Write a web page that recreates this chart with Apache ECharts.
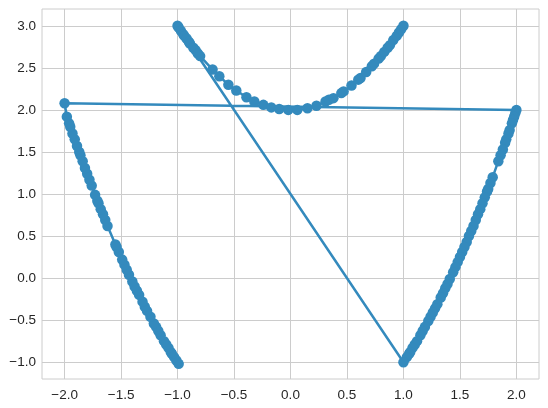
<!DOCTYPE html>
<html>
<head>
<meta charset="utf-8">
<script src="https://cdn.jsdelivr.net/npm/echarts@6/dist/echarts.min.js"></script>
<style>
  html, body { margin: 0; padding: 0; background: #fff; }
  #chart { width: 548px; height: 408px; }
</style>
</head>
<body>
<div id="chart"></div>
<script>
// left branch, going from (-1,-1) up to (-2,2.08)
var leftX = [-0.99, -1.01, -1.03, -1.05, -1.06, -1.08, -1.10, -1.12, -1.15, -1.17, -1.19, -1.21, -1.24, -1.27, -1.29, -1.31, -1.34, -1.36, -1.38, -1.40, -1.43, -1.45, -1.47, -1.49, -1.52, -1.54, -1.55, -1.62, -1.64, -1.66, -1.68, -1.70, -1.71, -1.73, -1.76, -1.78, -1.80, -1.82, -1.84, -1.86, -1.87, -1.89, -1.91, -1.93, -1.95, -1.96, -1.98, -2.00];
var leftY = [-1.02, -0.98, -0.94, -0.90, -0.88, -0.83, -0.79, -0.75, -0.68, -0.63, -0.58, -0.54, -0.46, -0.39, -0.34, -0.28, -0.20, -0.15, -0.10, -0.04, 0.04, 0.10, 0.16, 0.22, 0.31, 0.37, 0.40, 0.62, 0.69, 0.76, 0.82, 0.89, 0.92, 0.99, 1.10, 1.17, 1.24, 1.31, 1.39, 1.46, 1.50, 1.57, 1.65, 1.72, 1.80, 1.84, 1.92, 2.08];

// right branch, from (2,2) down to (1,-1)
var rightX = [2.00, 1.99, 1.98, 1.97, 1.96, 1.94, 1.93, 1.91, 1.90, 1.88, 1.86, 1.84, 1.79, 1.77, 1.75, 1.74, 1.72, 1.70, 1.68, 1.66, 1.64, 1.62, 1.60, 1.58, 1.56, 1.54, 1.52, 1.50, 1.48, 1.46, 1.44, 1.41, 1.39, 1.37, 1.35, 1.33, 1.30, 1.28, 1.26, 1.24, 1.22, 1.19, 1.17, 1.15, 1.12, 1.10, 1.08, 1.06, 1.05, 1.03, 1.00];
var rightY = [2.00, 1.96, 1.92, 1.88, 1.84, 1.76, 1.72, 1.65, 1.61, 1.53, 1.46, 1.39, 1.20, 1.13, 1.06, 1.03, 0.96, 0.89, 0.82, 0.76, 0.69, 0.62, 0.56, 0.50, 0.43, 0.37, 0.31, 0.25, 0.19, 0.13, 0.07, -0.01, -0.07, -0.12, -0.18, -0.23, -0.31, -0.36, -0.41, -0.46, -0.51, -0.58, -0.63, -0.68, -0.75, -0.79, -0.83, -0.88, -0.90, -0.94, -1.00];

// parabola on top, from (-1,3) to (1,3)
var midX = [-1.00, -0.99, -0.97, -0.95, -0.94, -0.92, -0.90, -0.89, -0.86, -0.84, -0.82, -0.80, -0.69, -0.63, -0.55, -0.48, -0.39, -0.32, -0.24, -0.17, -0.10, -0.02, 0.06, 0.15, 0.23, 0.31, 0.34, 0.38, 0.45, 0.47, 0.54, 0.60, 0.62, 0.67, 0.72, 0.74, 0.78, 0.80, 0.83, 0.86, 0.88, 0.91, 0.94, 0.96, 0.98, 1.00];
var midY = [3.00, 2.98, 2.94, 2.90, 2.88, 2.85, 2.81, 2.79, 2.74, 2.71, 2.67, 2.64, 2.48, 2.40, 2.30, 2.23, 2.15, 2.10, 2.06, 2.03, 2.01, 2.00, 2.00, 2.02, 2.05, 2.10, 2.12, 2.14, 2.20, 2.22, 2.29, 2.36, 2.38, 2.45, 2.52, 2.55, 2.61, 2.64, 2.69, 2.74, 2.77, 2.83, 2.88, 2.92, 2.96, 3.00];

var xTicks = [-2.0, -1.5, -1.0, -0.5, 0.0, 0.5, 1.0, 1.5, 2.0];
var yTicks = [-1.0, -0.5, 0.0, 0.5, 1.0, 1.5, 2.0, 2.5, 3.0];

var allX = leftX.concat(rightX, midX);
var allY = leftY.concat(rightY, midY);
var points = [];
for (var i = 0; i < allX.length; i++) {
  points.push([allX[i], allY[i]]);
}

function fmt(v) {
  return v.toFixed(1).replace('-', '\u2212');
}

var myChart = echarts.init(document.getElementById('chart'));
var labelStyle = {
  color: '#262626',
  fontFamily: 'Liberation Sans, Arial, sans-serif',
  fontSize: 13.5,
  formatter: fmt
};
var option = {
  animation: false,
  grid: {
    left: 42, right: 9, top: 9, bottom: 29,
    show: true,
    borderColor: '#cccccc',
    borderWidth: 1
  },
  xAxis: {
    type: 'value',
    min: -2.2,
    max: 2.2,
    axisLine: { show: false },
    axisTick: { show: false, customValues: xTicks },
    axisLabel: Object.assign({ customValues: xTicks, margin: 9 }, labelStyle),
    splitLine: { show: true, lineStyle: { color: '#cccccc', width: 1 } }
  },
  yAxis: {
    type: 'value',
    min: -1.2,
    max: 3.2,
    axisLine: { show: false },
    axisTick: { show: false, customValues: yTicks },
    axisLabel: Object.assign({ customValues: yTicks, margin: 6 }, labelStyle),
    splitLine: { show: true, lineStyle: { color: '#cccccc', width: 1 } }
  },
  series: [
    {
      type: 'line',
      data: points,
      symbol: 'circle',
      symbolSize: 10.5,
      showSymbol: true,
      showAllSymbol: true,
      color: '#348ABD',
      lineStyle: { width: 2.5, color: '#348ABD' },
      itemStyle: { color: '#348ABD', borderWidth: 0 }
    }
  ]
};
myChart.setOption(option);
</script>
</body>
</html>
